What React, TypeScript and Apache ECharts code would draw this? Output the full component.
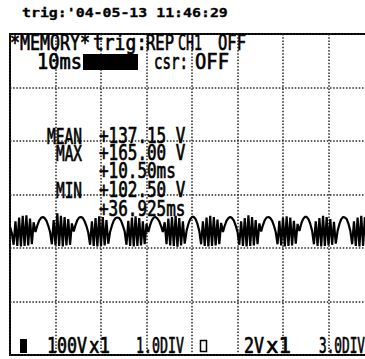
import React, { useEffect, useRef } from 'react';
import * as echarts from 'echarts';

// ---- data ----
const headerText = "trig:'04-05-13 11:46:29";
const xMinMs = 0;
const xMaxMs = 80;
const xDivMs = 10;
const yMinV = -100;
const yMaxV = 500;
const yDivV = 100;
const sampleMs = 0.4;

// CH1 trace (V), one sample every 0.4 ms
const ch1Volts = [
  140, 128,
  106, 150, 104, 157, 103, 160, 104, 161, 105, 155, 107, 148,
  130, 142, 151, 156, 158, 156, 151, 142, 130,
  107, 152, 105, 165, 104, 160, 103, 158, 105, 154, 106, 146,
  131, 143, 152, 157, 158, 156, 150, 141, 129,
  106, 150, 104, 156, 103, 159, 104, 158, 105, 152, 108,
  130, 142, 151, 156, 157, 156, 151, 142, 131,
  106, 151, 104, 157, 103, 159, 104, 156, 105, 150, 107, 145,
  130, 143, 152, 157, 158, 155, 150, 141, 130,
  148, 107, 155, 105, 158, 104, 160, 102.5, 156, 105, 150, 108,
  132, 145, 154, 158, 158, 154, 145, 132,
  107, 150, 104, 157, 103, 160, 104, 158, 105, 153, 107, 147,
  130, 142, 151, 156, 158, 156, 151, 142, 130,
  106, 150, 104, 156, 103, 161, 104, 158, 105, 152, 107, 146,
  131, 143, 152, 157, 158, 156, 151, 142, 130,
  107, 151, 105, 157, 103, 159, 104, 157, 105, 151, 108, 145,
  132, 145, 154, 158, 158, 154, 145, 132,
  107, 150, 104, 156, 103, 160, 104, 158, 105, 154, 106, 149, 108,
  132, 145, 154, 158, 157, 154, 145, 132,
  107, 150, 104, 157, 103, 160, 104, 158, 105, 153, 106, 148, 108,
];

const statNames = ['MEAN', 'MAX', '', 'MIN', ''];
const statValues = ['+137.15 V', '+165.00 V', '+10.50ms', '+102.50 V', '+36.925ms'];

const FONT = "'DejaVu Sans Mono', 'Liberation Mono', monospace";

function label(text: string, x: number, yMid: number, width: number, size = 18, header = false): any {
  const adv = 0.602 * size * text.length;
  return {
    type: 'text',
    x,
    y: yMid,
    scaleX: width / adv,
    scaleY: header ? 1 : 1.15,
    z: 10,
    style: {
      text,
      fill: '#000',
      stroke: '#000',
      lineWidth: header ? 0.3 : 0.6,
      font: `${header ? 'bold ' : ''}${size}px ${FONT}`,
      textAlign: 'left',
      textVerticalAlign: 'middle',
      align: 'left',
      verticalAlign: 'middle',
    },
  };
}

export default function App() {
  const ref = useRef<HTMLDivElement>(null);
  useEffect(() => {
    if (!ref.current) return;
    const chart = echarts.init(ref.current, undefined, { renderer: 'svg' });
    const data = ch1Volts.map((v, i) => [+(i * sampleMs).toFixed(2), v]);
    const statRowsY = [136, 153, 171, 190, 209];
    const graphics: any[] = [
      label(headerText, 22, 13, 206, 12, true),
      label('*MEMORY*', 10, 43, 80),
      label('trig:', 93, 43, 54),
      label('REP', 146, 43, 28),
      label('CH1', 178, 43, 24),
      label('OFF', 218, 43, 28),
      label('10ms', 37, 62, 45),
      { type: 'rect', shape: { x: 83, y: 54, width: 55, height: 16 }, style: { fill: '#000' }, z: 10 },
      label('csr:', 154, 62, 34),
      label('OFF', 195, 62, 34),
      label('100V', 47, 346, 40),
      label('x1', 89, 346, 21),
      label('1.0DIV', 136, 346, 48),
      label('2V', 244, 346, 20),
      label('x1', 266, 346, 25),
      label('3.0DIV', 319, 346, 46),
      { type: 'rect', shape: { x: 20, y: 339, width: 7, height: 14 }, style: { fill: '#000' }, z: 10 },
      { type: 'rect', shape: { x: 200.5, y: 340.5, width: 6, height: 11 }, style: { fill: 'none', stroke: '#000', lineWidth: 1.5 }, z: 10 },
    ];
    statNames.forEach((n, i) => {
      if (n) graphics.push(label(n, n === 'MEAN' ? 47 : 56, statRowsY[i], n === 'MEAN' ? 35 : 26));
      graphics.push(label(statValues[i], 99, statRowsY[i], statValues[i].length * 9.6));
    });

    const dotted = { show: true, lineStyle: { color: '#222', width: 1.5, type: [1.5, 1.7] as any } };
    chart.setOption({
      animation: false,
      backgroundColor: '#fff',
      grid: { left: 10, top: 34, right: 6, bottom: 4, show: true, borderColor: '#000', borderWidth: 2, backgroundColor: 'transparent' },
      xAxis: {
        type: 'value', min: xMinMs, max: xMaxMs, interval: xDivMs,
        axisLabel: { show: false }, axisTick: { show: false }, axisLine: { show: false },
        splitLine: dotted,
      },
      yAxis: {
        type: 'value', min: yMinV, max: yMaxV, interval: yDivV,
        axisLabel: { show: false }, axisTick: { show: false }, axisLine: { show: false },
        splitLine: dotted,
      },
      series: [{
        type: 'line', data, showSymbol: false, symbol: 'none',
        lineStyle: { color: '#000', width: 2.2 }, z: 5,
      }],
      graphic: graphics,
    });
    return () => chart.dispose();
  }, []);
  return (
    <div style={{ position: 'absolute', left: 0, top: 0, width: 365, height: 359, overflow: 'hidden', background: '#fff' }}>
      <div ref={ref} style={{ width: 380, height: 359 }} />
    </div>
  );
}
